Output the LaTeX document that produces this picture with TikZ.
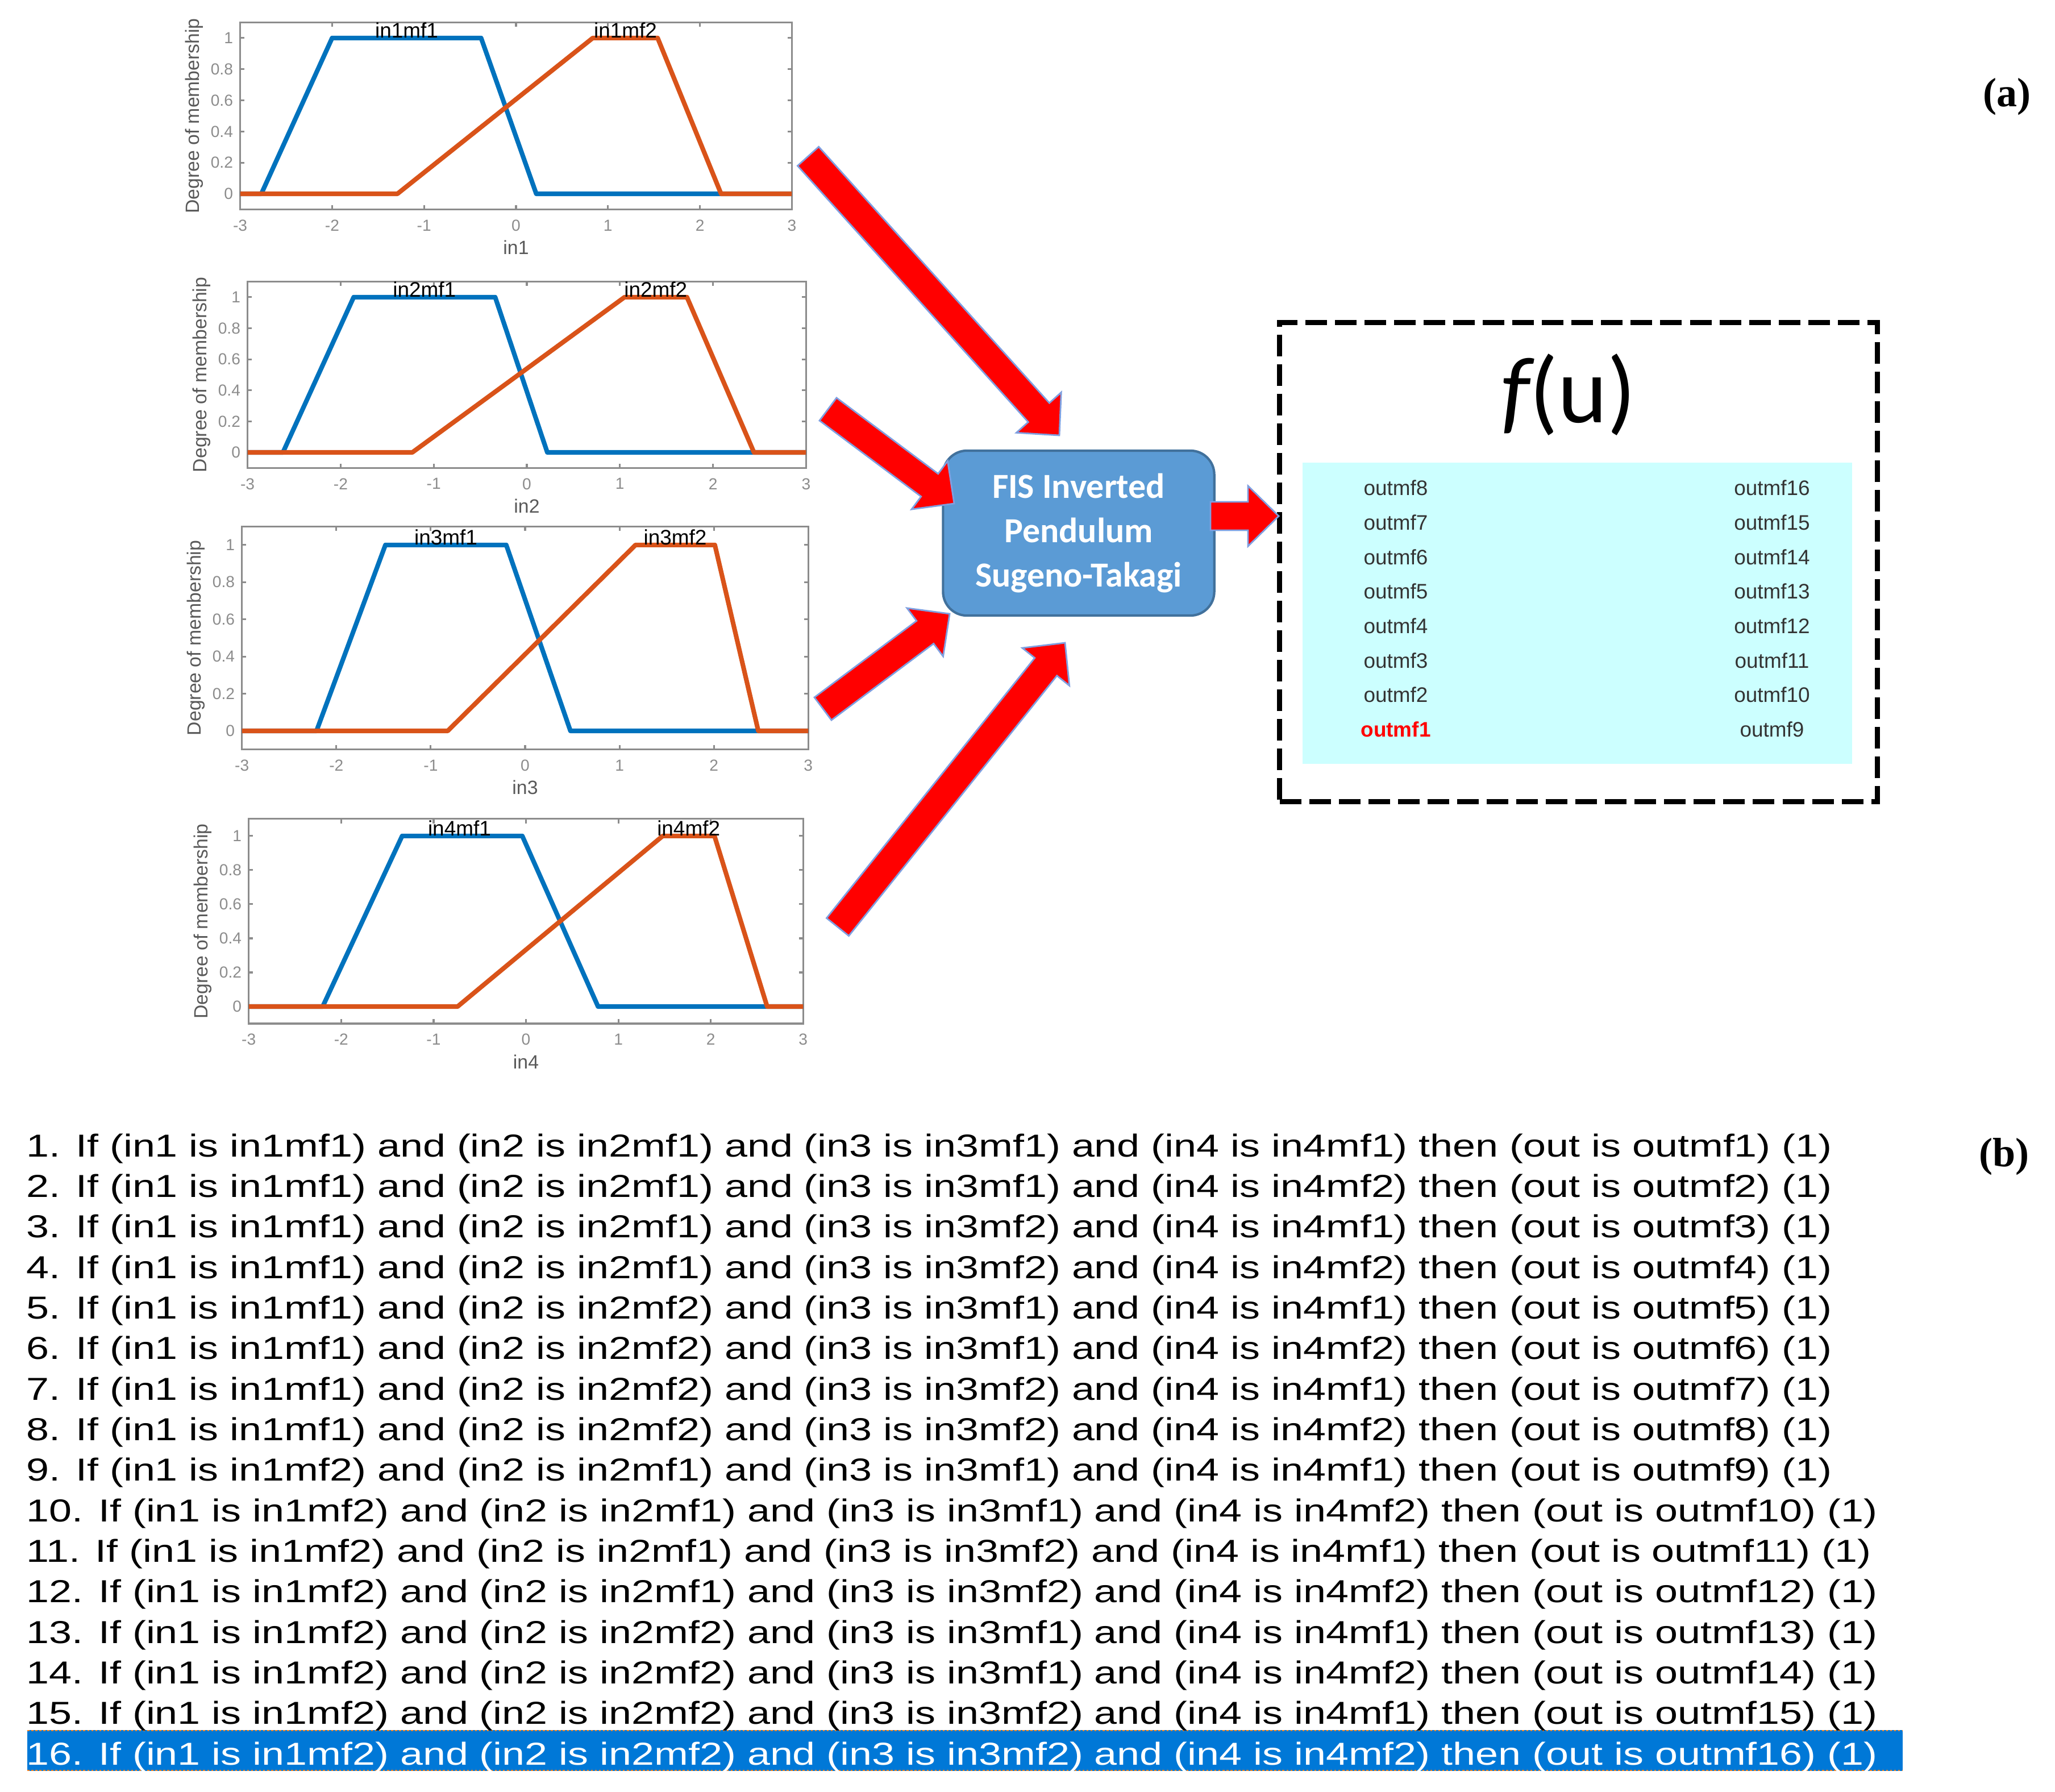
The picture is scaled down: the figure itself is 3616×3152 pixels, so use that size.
\documentclass[tikz,border=0pt]{standalone}
\usepackage{fontspec}
\usepackage{graphicx}
\setmainfont{Liberation Sans}
\newfontfamily\carlito{Carlito}
\newfontfamily\lserif{Liberation Serif}
\usetikzlibrary{calc}
\definecolor{mblue}{rgb}{0,0.447,0.741}
\definecolor{morange}{rgb}{0.85,0.325,0.098}
\definecolor{axgray}{gray}{0.55}
\definecolor{fisfill}{HTML}{5B9BD5}
\definecolor{fisdraw}{HTML}{41719C}
\definecolor{panelcyan}{HTML}{CCFFFF}
\definecolor{hlblue}{HTML}{0078D7}
\definecolor{arrowedge}{HTML}{7F9FE0}
\definecolor{focusorange}{HTML}{F08020}

\tikzset{
  axisline/.style={draw=axgray, line width=0.9pt},
  bluemf/.style={draw=mblue, line width=2.3pt, line join=round},
  orangemf/.style={draw=morange, line width=2.3pt, line join=round},
  ticklab/.style={text=axgray, font=\fontsize{8}{8}\selectfont, inner sep=0pt},
  axlab/.style={text=black!65, font=\fontsize{9.6}{9.6}\selectfont, inner sep=0pt},
  mflab/.style={text=black, font=\fontsize{10.5}{10.5}\selectfont, inner sep=0pt, anchor=base},
  blockarr/.style={fill=red, draw=arrowedge, line width=0.8pt, line join=miter},
  fisbox/.style={rounded corners=0.42cm, fill=fisfill, draw=fisdraw, line width=1.2pt,
    minimum width=4.77cm, minimum height=2.9cm, align=center, text=white,
    font=\carlito\bfseries\fontsize{17.6}{22.2}\selectfont},
  dashbox/.style={draw=black, line width=2.5pt, dash pattern=on 10.8pt off 4pt,
    minimum width=10.51cm, minimum height=8.42cm, inner sep=0pt},
  panel/.style={fill=panelcyan, minimum width=9.67cm, minimum height=5.30cm, inner sep=0pt},
  outlab/.style={text=black!80, font=\fontsize{10.5}{10.5}\selectfont, inner sep=0pt},
  rule/.style={anchor=base west, inner sep=0pt, font=\fontsize{15.9}{15.9}\selectfont},
  sublab/.style={font=\lserif\bfseries\fontsize{20.5}{20.5}\selectfont, inner sep=0pt}
}

% #1 shift, #2 x unit (cm), #3 y unit (cm), #4 number, #5 blue path, #6 orange path, #7/#8 label x
\newcommand\mfplot[8]{%
\begin{scope}[shift={#1}, x=#2cm, y=#3cm]
  \foreach \t [count=\i] in {-3,...,3} {
    \draw[axisline] (\t,-0.1) -- ++(0pt,2.2pt);
    \draw[axisline] (\t,1.1) -- ++(0pt,-2.2pt);
    \node[ticklab, anchor=north] (p#4x\i) at ([yshift=-5pt]\t,-0.1) {\t};
  }
  \foreach \v [count=\i] in {0,0.2,0.4,0.6,0.8,1} {
    \draw[axisline] (-3,\v) -- ++(2.2pt,0pt);
    \draw[axisline] (3,\v) -- ++(-2.2pt,0pt);
    \node[ticklab, anchor=east] (p#4y\i) at ([xshift=-3.4pt]-3,\v) {\v};
  }
  \draw[axisline] (-3,-0.1) rectangle (3,1.1);
  \draw[bluemf] (-3,0) -- #5 -- (3,0);
  \draw[orangemf] (-3,0) -- #6 -- (3,0);
  \node[mflab] (p#4m1) at (#7,1) {in#4mf1};
  \node[mflab] (p#4m2) at (#8,1) {in#4mf2};
  \node[axlab] (p#4xl) at ([yshift=-19pt]0,-0.1) {in#4};
  \node[axlab, rotate=90] (p#4yl) at ([xshift=-23pt]-3,0.5) {Degree of membership};
\end{scope}}

\newcommand\blockarrow[2]{%
  \coordinate (bac) at ($(#2)!0.54cm!(#1)$);
  \draw[blockarr] ($(#1)!0.25cm!90:(#2)$) -- ($(bac)!0.25cm!90:(#2)$)
    -- ($(bac)!0.53cm!90:(#2)$) -- (#2) -- ($(bac)!0.53cm!-90:(#2)$)
    -- ($(bac)!0.25cm!-90:(#2)$) -- ($(#1)!0.25cm!-90:(#2)$) -- cycle;}

\begin{document}
\begin{tikzpicture}[x=0.01cm, y=-0.01cm]
\fill[white] (0,0) rectangle (3616,3152);
\useasboundingbox (0,0) rectangle (3616,3152);

% membership function plots
\mfplot{(908,341)}{1.617}{2.74}{1}{(-2.77,0)--(-2,1)--(-0.38,1)--(0.22,0)}{(-1.29,0)--(0.835,1)--(1.54,1)--(2.23,0)}{-1.19}{1.19}
\mfplot{(927,796)}{1.637}{2.73}{2}{(-2.62,0)--(-1.86,1)--(-0.34,1)--(0.22,0)}{(-1.23,0)--(1.05,1)--(1.72,1)--(2.44,0)}{-1.1}{1.385}
\mfplot{(924,1286)}{1.66}{3.27}{3}{(-2.21,0)--(-1.48,1)--(-0.20,1)--(0.48,0)}{(-0.82,0)--(1.17,1)--(2.01,1)--(2.47,0)}{-0.84}{1.59}
\mfplot{(925.5,1771)}{1.625}{3.0}{4}{(-2.20,0)--(-1.34,1)--(-0.04,1)--(0.78,0)}{(-0.74,0)--(1.48,1)--(2.04,1)--(2.61,0)}{-0.72}{1.76}

% FIS box
\node[fisbox] (fis) at (1898,938) {FIS Inverted\\Pendulum\\Sugeno-Takagi};

% output box
\node[dashbox] (fbox) at (2777.5,989) {};
\node[panel] (pnl) at (2775.5,1079) {};
\node[inner sep=0pt, font=\carlito\fontsize{47}{47}\selectfont] (fu) at (2760,695) {{\itshape f}(u)};

\foreach \k [count=\i] in {8,7,6,5,4,3,2} {
  \node[outlab] (o\k) at (2456,{858.6+60.7*(\i-1)}) {outmf\k};
}
\node[outlab, text=red, font=\bfseries\fontsize{10.5}{10.5}\selectfont] (o1) at (2456,1283.4) {outmf1};
\foreach \k [count=\i] in {16,15,14,13,12,11,10,9} {
  \node[outlab] (o\k) at (3118,{858.6+60.7*(\i-1)}) {outmf\k};
}

% arrows
\coordinate (a1t) at (1422,275);  \coordinate (a1h) at (1864,766);
\coordinate (a2t) at (1457,720);  \coordinate (a2h) at (1679,886);
\coordinate (a3t) at (1448,1247); \coordinate (a3h) at (1671,1080);
\coordinate (a4t) at (1474,1631); \coordinate (a4h) at (1874,1131);
\coordinate (a5t) at (2130,908);  \coordinate (a5h) at (2250,908);
\blockarrow{a1t}{a1h}
\blockarrow{a2t}{a2h}
\blockarrow{a3t}{a3h}
\blockarrow{a4t}{a4h}
\blockarrow{a5t}{a5h}

% labels
\node[sublab] (la) at (3531,170) {(a)};
\node[sublab] (lb) at (3526,2035) {(b)};

% rules
\fill[hlblue] (48,3044) rectangle (3348,3116);
\draw[focusorange, line width=0.6pt, dash pattern=on 1pt off 1pt] (48,3045) -- (3348,3045);
\draw[focusorange, line width=0.6pt, dash pattern=on 1pt off 1pt] (48,3115) -- (3348,3115);

\node[rule] (r1) at (46,2035) {\scalebox{1.285}[1]{1. If (in1 is in1mf1) and (in2 is in2mf1) and (in3 is in3mf1) and (in4 is in4mf1) then (out is outmf1) (1)}};
\node[rule] (r2) at (46,2106.3) {\scalebox{1.285}[1]{2. If (in1 is in1mf1) and (in2 is in2mf1) and (in3 is in3mf1) and (in4 is in4mf2) then (out is outmf2) (1)}};
\node[rule] (r3) at (46,2177.7) {\scalebox{1.285}[1]{3. If (in1 is in1mf1) and (in2 is in2mf1) and (in3 is in3mf2) and (in4 is in4mf1) then (out is outmf3) (1)}};
\node[rule] (r4) at (46,2249) {\scalebox{1.285}[1]{4. If (in1 is in1mf1) and (in2 is in2mf1) and (in3 is in3mf2) and (in4 is in4mf2) then (out is outmf4) (1)}};
\node[rule] (r5) at (46,2320.3) {\scalebox{1.285}[1]{5. If (in1 is in1mf1) and (in2 is in2mf2) and (in3 is in3mf1) and (in4 is in4mf1) then (out is outmf5) (1)}};
\node[rule] (r6) at (46,2391.7) {\scalebox{1.285}[1]{6. If (in1 is in1mf1) and (in2 is in2mf2) and (in3 is in3mf1) and (in4 is in4mf2) then (out is outmf6) (1)}};
\node[rule] (r7) at (46,2463) {\scalebox{1.285}[1]{7. If (in1 is in1mf1) and (in2 is in2mf2) and (in3 is in3mf2) and (in4 is in4mf1) then (out is outmf7) (1)}};
\node[rule] (r8) at (46,2534.3) {\scalebox{1.285}[1]{8. If (in1 is in1mf1) and (in2 is in2mf2) and (in3 is in3mf2) and (in4 is in4mf2) then (out is outmf8) (1)}};
\node[rule] (r9) at (46,2605.7) {\scalebox{1.285}[1]{9. If (in1 is in1mf2) and (in2 is in2mf1) and (in3 is in3mf1) and (in4 is in4mf1) then (out is outmf9) (1)}};
\node[rule] (r10) at (46,2677) {\scalebox{1.285}[1]{10. If (in1 is in1mf2) and (in2 is in2mf1) and (in3 is in3mf1) and (in4 is in4mf2) then (out is outmf10) (1)}};
\node[rule] (r11) at (46,2748.3) {\scalebox{1.285}[1]{11. If (in1 is in1mf2) and (in2 is in2mf1) and (in3 is in3mf2) and (in4 is in4mf1) then (out is outmf11) (1)}};
\node[rule] (r12) at (46,2819.7) {\scalebox{1.285}[1]{12. If (in1 is in1mf2) and (in2 is in2mf1) and (in3 is in3mf2) and (in4 is in4mf2) then (out is outmf12) (1)}};
\node[rule] (r13) at (46,2891) {\scalebox{1.285}[1]{13. If (in1 is in1mf2) and (in2 is in2mf2) and (in3 is in3mf1) and (in4 is in4mf1) then (out is outmf13) (1)}};
\node[rule] (r14) at (46,2962.3) {\scalebox{1.285}[1]{14. If (in1 is in1mf2) and (in2 is in2mf2) and (in3 is in3mf1) and (in4 is in4mf2) then (out is outmf14) (1)}};
\node[rule] (r15) at (46,3033.7) {\scalebox{1.285}[1]{15. If (in1 is in1mf2) and (in2 is in2mf2) and (in3 is in3mf2) and (in4 is in4mf1) then (out is outmf15) (1)}};
\node[rule, text=white] (r16) at (46,3105) {\scalebox{1.285}[1]{16. If (in1 is in1mf2) and (in2 is in2mf2) and (in3 is in3mf2) and (in4 is in4mf2) then (out is outmf16) (1)}};
\end{tikzpicture}
\end{document}
